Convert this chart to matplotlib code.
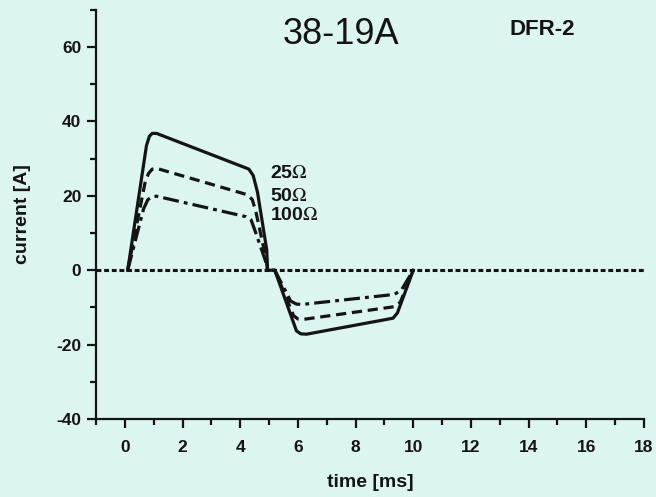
import matplotlib.pyplot as plt
from matplotlib.ticker import MultipleLocator

plt.rcParams['font.family'] = ['Liberation Sans Narrow', 'Liberation Sans', 'DejaVu Sans']
plt.rcParams['axes.unicode_minus'] = False
plt.rcParams['mathtext.fontset'] = 'stix'

# current vs time for three load resistances
t25 = [0.1, 0.75, 0.85, 0.95, 1.1, 4.3, 4.45, 4.6, 4.92, 4.95, 5.2, 5.95, 6.1, 6.3, 9.3, 9.45, 10.0]
i25 = [0, 33.5, 36.0, 36.8, 36.8, 27.2, 25.5, 21.0, 5.5, 0, 0, -16.3, -17.1, -17.2, -12.9, -11.5, 0]

t50 = [0.1, 0.7, 0.82, 0.95, 1.1, 4.25, 4.42, 4.55, 4.9, 4.95, 5.2, 5.85, 6.0, 6.2, 9.35, 9.55, 10.0]
i50 = [0, 23.5, 26.0, 27.2, 27.4, 20.3, 19.0, 15.5, 3.0, 0, 0, -12.2, -13.1, -13.2, -9.8, -8.6, 0]

t100 = [0.1, 0.65, 0.8, 0.95, 1.1, 4.2, 4.38, 4.52, 4.9, 4.95, 5.2, 5.75, 5.95, 6.15, 9.35, 9.6, 10.0]
i100 = [0, 16.5, 19.0, 19.8, 19.9, 14.4, 13.5, 10.5, 2.0, 0, 0, -8.3, -9.1, -9.2, -6.5, -5.2, 0]

labels = [r'25$\Omega$', r'50$\Omega$', r'100$\Omega$']
label_y = [26.0, 19.8, 14.8]

bg = '#dcf5f0'
ink = '#141414'

fig = plt.figure(figsize=(6.56, 4.97), dpi=100, facecolor=bg)
ax = fig.add_axes([0.1463, 0.157, 0.8354, 0.823], facecolor=bg)

ax.axhline(0, color=ink, lw=2.2, ls=(0, (1.6, 0.9)), zorder=1)

ax.plot(t25, i25, color=ink, lw=2.3, solid_joinstyle='round')
ax.plot(t50, i50, color=ink, lw=2.3, ls=(0, (3.2, 1.8)))
ax.plot(t100, i100, color=ink, lw=2.3, ls=(0, (5, 1.6, 1.2, 1.6)))

for lab, y in zip(labels, label_y):
    ax.text(5.05, y, lab, fontsize=14, fontweight='bold', color=ink, va='center', ha='left')

ax.set_xlim(-1, 18)
ax.set_ylim(-40, 70)
ax.xaxis.set_major_locator(MultipleLocator(2))
ax.xaxis.set_minor_locator(MultipleLocator(1))
ax.yaxis.set_major_locator(MultipleLocator(20))
ax.yaxis.set_minor_locator(MultipleLocator(10))

for s in ['top', 'right']:
    ax.spines[s].set_visible(False)
for s in ['left', 'bottom']:
    ax.spines[s].set_linewidth(1.6)
    ax.spines[s].set_color(ink)

ax.tick_params(which='major', direction='out', length=6.5, width=1.6, color=ink,
               labelsize=12.5, labelcolor=ink)
ax.tick_params(which='minor', direction='out', length=4, width=1.6, color=ink)
ax.tick_params(axis='x', pad=9)
ax.tick_params(axis='y', pad=4)
for lbl in ax.get_xticklabels() + ax.get_yticklabels():
    lbl.set_fontweight('bold')

ax.set_xlabel('time [ms]', fontsize=14, fontweight='bold', color=ink, labelpad=13)
ax.set_ylabel('current [A]', fontsize=14, fontweight='bold', color=ink, labelpad=18)

fig.text(0.52, 0.93, '38-19A', fontsize=26, color=ink, ha='center', va='center')
fig.text(0.826, 0.94, 'DFR-2', fontsize=16, fontweight='bold', color=ink, ha='center', va='center')

fig.savefig('out.png', dpi=100, facecolor=bg)
